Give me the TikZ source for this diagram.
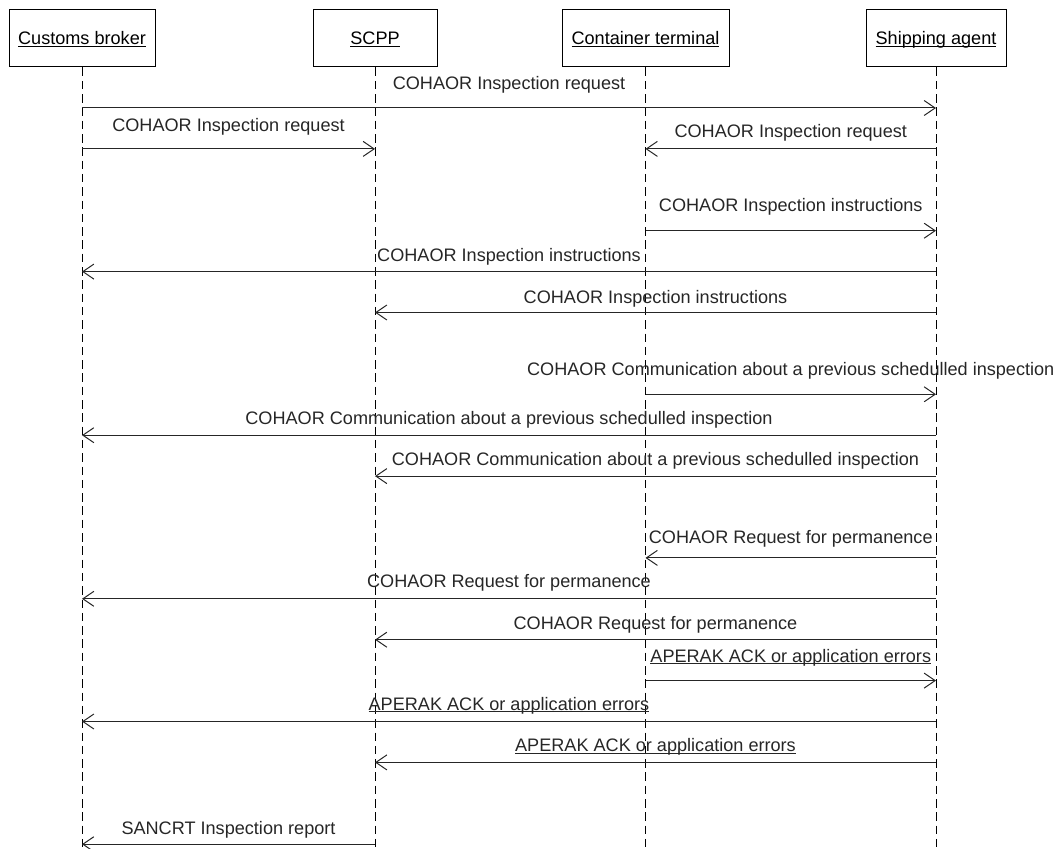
\documentclass[tikz,border=0pt]{standalone}
\usepackage{fontspec}
\setmainfont{Liberation Sans}
\usetikzlibrary{arrows.meta}
\usetikzlibrary{calc}
\tikzset{>={Straight Barb[length=11pt,width=15pt]}}
\tikzstyle{actor} = [%
					draw, line width = 1pt,
					minimum height = 57pt,
					text height = 13pt, text depth = 0pt,
					inner sep = 0pt,
					font = \fontsize{18.1}{22}\selectfont
					]
\tikzstyle{lifeline} = [line width = 1pt, dash pattern = on 8.5pt off 4.8pt]
\tikzstyle{msg} = [line width = 1pt, ->, black!85]
\tikzstyle{lbl} = [anchor = base, inner sep = 0pt, font = \fontsize{18.1}{22}\selectfont]
% underline that cuts through the descenders
\def\undl#1{\setbox0=\hbox{#1}\rlap{\rule[-1.8pt]{\wd0}{1.1pt}}\box0}

\begin{document}
\begin{tikzpicture}[x=1pt, y=-1pt]
    \useasboundingbox (0,0) rectangle (1056,848);

    % Layout parameters
    \def\firsty  {108}     % y of the first message
    \def\dy      {40.9}    % distance between two message rows
    \def\boty    {848}     % end of the lifelines

    % Participants
    \node[actor, minimum width=146pt] (cb)   at (82,38.5)    {\undl{Customs broker}};
    \node[actor, minimum width=124pt] (scpp) at (375,38.5)   {\undl{SCPP}};
    \node[actor, minimum width=167pt] (ct)   at (645.5,38.5) {\undl{Container terminal}};
    \node[actor, minimum width=140pt] (sa)   at (936,38.5)   {\undl{Shipping agent}};

    % Lifelines
    \foreach \p in {cb,scpp,ct,sa}
        \draw[lifeline] (\p.south) -- (\p.south |- 0,\boty);

    % Messages: from / to / row / label lift / text
    \foreach \from/\to/\row/\off/\txt
        [evaluate=\row as \y using {\firsty+\row*\dy}] in {
        cb/sa/0/18/{COHAOR Inspection request},
        cb/scpp/1/17.5/{COHAOR Inspection request},
        sa/ct/1/11/{COHAOR Inspection request},
        ct/sa/3/19/{COHAOR Inspection instructions},
        sa/cb/4/10.5/{COHAOR Inspection instructions},
        sa/scpp/5/9.5/{COHAOR Inspection instructions},
        ct/sa/7/19/{COHAOR Communication about a previous schedulled inspection},
        sa/cb/8/10.5/{COHAOR Communication about a previous schedulled inspection},
        sa/scpp/9/11/{COHAOR Communication about a previous schedulled inspection},
        sa/ct/11/14/{COHAOR Request for permanence},
        sa/cb/12/11/{COHAOR Request for permanence},
        sa/scpp/13/10/{COHAOR Request for permanence},
        ct/sa/14/18/{\undl{APERAK ACK or application errors}},
        sa/cb/15/11/{\undl{APERAK ACK or application errors}},
        sa/scpp/16/10.5/{\undl{APERAK ACK or application errors}},
        scpp/cb/18/10/{SANCRT Inspection report}} {
        \draw[msg] (\from.south |- 0,\y) -- (\to.south |- 0,\y)
            node[lbl, midway, yshift=\off pt] {\txt};
    }

\end{tikzpicture}
\end{document}
